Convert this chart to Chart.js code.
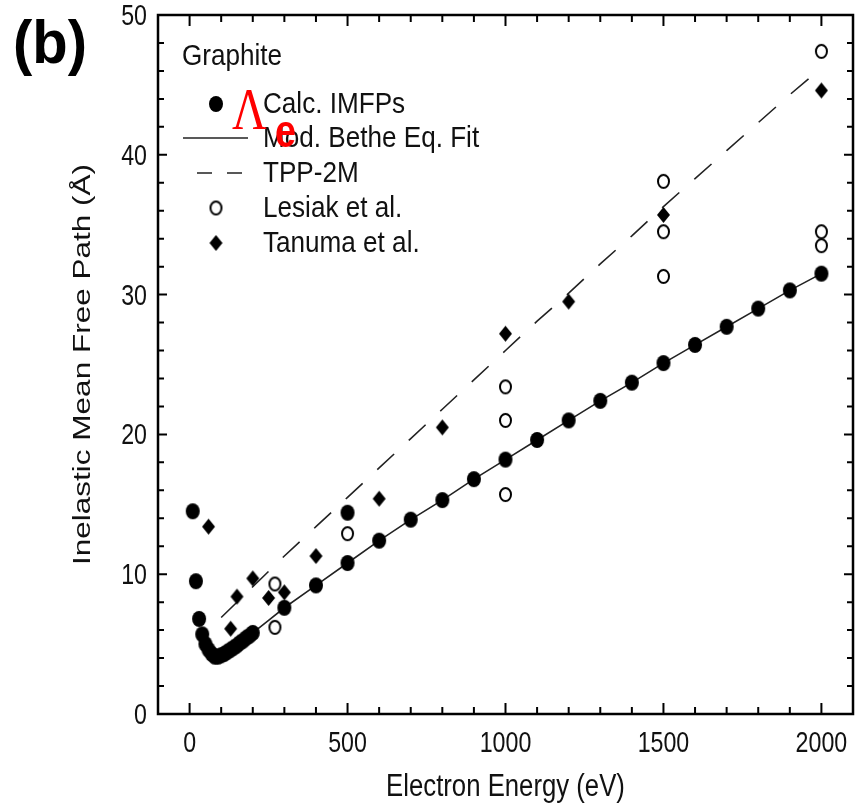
<!DOCTYPE html>
<html>
<head>
<meta charset="utf-8">
<script src="https://cdn.jsdelivr.net/npm/chart.js@4"></script>
<style>
  body { margin: 0; background: #fff; }
  canvas { display: block; }
</style>
</head>
<body>
<canvas id="imfpChart" width="857" height="806"></canvas>
<script>
// Calculated IMFPs (filled circles)
const calcEnergy = [10, 20, 30, 40, 50, 60, 70, 80, 90, 100, 110, 120, 130, 140, 150, 160, 170, 180, 190, 200,
    300, 400, 500, 600, 700, 800, 900, 1000, 1100, 1200, 1300, 1400, 1500, 1600, 1700, 1800, 1900, 2000, 500];
const calcImfp = [14.5, 9.5, 6.8, 5.7, 5.0, 4.6, 4.3, 4.1, 4.1, 4.2, 4.3, 4.45, 4.6, 4.75, 4.9, 5.1, 5.25, 5.45, 5.6, 5.8,
    7.6, 9.2, 10.8, 12.4, 13.9, 15.3, 16.8, 18.2, 19.6, 21.0, 22.4, 23.7, 25.1, 26.4, 27.7, 29.0, 30.3, 31.5, 14.4];

// Modified Bethe equation fit (solid line)
const betheEnergy = [80, 100, 150, 200, 250, 300, 400, 500, 600, 700, 800, 900, 1000, 1100, 1200, 1300, 1400, 1500, 1600, 1700, 1800, 1900, 2000];
const betheImfp = [4.1, 4.2, 4.9, 5.8, 6.7, 7.6, 9.2, 10.8, 12.4, 13.9, 15.3, 16.8, 18.2, 19.6, 21.0, 22.4, 23.7, 25.1, 26.4, 27.7, 29.0, 30.3, 31.5];

// TPP-2M (dashed line)
const tppEnergy = [100, 200, 300, 400, 500, 600, 700, 800, 900, 1000, 1100, 1200, 1300, 1400, 1500, 1600, 1700, 1800, 1900, 2000];
const tppImfp = [6.9, 9.1, 11.3, 13.4, 15.5, 17.6, 19.7, 21.8, 23.9, 26.0, 28.1, 30.1, 32.2, 34.2, 36.3, 38.3, 40.3, 42.3, 44.3, 46.2];

// Lesiak et al. (open circles)
const lesiakEnergy = [270, 270, 500, 1000, 1000, 1000, 1500, 1500, 1500, 2000, 2000, 2000];
const lesiakImfp = [9.3, 6.2, 12.9, 23.4, 21.0, 15.7, 38.1, 34.5, 31.3, 47.4, 34.5, 33.5];

// Tanuma et al. (filled diamonds)
const tanumaEnergy = [60, 130, 150, 200, 250, 300, 400, 600, 800, 1000, 1200, 1500, 2000];
const tanumaImfp = [13.4, 6.1, 8.4, 9.7, 8.3, 8.7, 11.3, 15.4, 20.5, 27.2, 29.5, 35.7, 44.6];

const xTickValues = [0, 500, 1000, 1500, 2000];
const yTickValues = [0, 10, 20, 30, 40, 50];

const SANS = "'Liberation Sans', Arial, Helvetica, sans-serif";
const SERIF = "'Liberation Serif', 'Times New Roman', serif";
const INK = '#111';

function toPoints(xs, ys) {
    return xs.map((x, i) => ({ x: x, y: ys[i] }));
}

// the original figure is stretched vertically, so markers are slightly tall ellipses
function makeMarker(kind, w, h) {
    const c = document.createElement('canvas');
    c.width = w + 4;
    c.height = h + 4;
    const g = c.getContext('2d');
    const cx = c.width / 2, cy = c.height / 2;
    g.fillStyle = '#000';
    g.strokeStyle = '#000';
    g.beginPath();
    if (kind === 'diamond') {
        g.moveTo(cx, cy - h / 2); g.lineTo(cx + w / 2, cy); g.lineTo(cx, cy + h / 2); g.lineTo(cx - w / 2, cy);
        g.closePath();
        g.fill();
    } else if (kind === 'open') {
        g.ellipse(cx, cy, w / 2 - 1, h / 2 - 1, 0, 0, Math.PI * 2);
        g.fillStyle = '#fff';
        g.fill();
        g.lineWidth = 2;
        g.stroke();
    } else {
        g.ellipse(cx, cy, w / 2, h / 2, 0, 0, Math.PI * 2);
        g.fill();
    }
    return c;
}

const dotMarker = makeMarker('dot', 14, 16);
const ringMarker = makeMarker('open', 13, 15);
const diamondMarker = makeMarker('diamond', 13, 16);

// text helper: horizontally squeezed Helvetica-like text
function drawText(ctx, text, x, y, o) {
    ctx.save();
    ctx.translate(x, y);
    if (o.rotate) ctx.rotate(o.rotate);
    ctx.scale(o.sx || 1, o.sy || 1);
    ctx.font = (o.weight ? o.weight + ' ' : '') + o.size + 'px ' + (o.family || SANS);
    ctx.fillStyle = o.color || INK;
    ctx.textAlign = o.align || 'left';
    ctx.textBaseline = 'alphabetic';
    ctx.fillText(text, 0, 0);
    ctx.restore();
}

// inward ticks on all four sides, the frame and the axis labels
const framePlugin = {
    id: 'frame',
    afterDatasetsDraw(chart) {
        const { ctx, chartArea: a, scales: { x, y } } = chart;
        ctx.save();
        ctx.strokeStyle = '#000';
        ctx.lineWidth = 2;
        ctx.beginPath();
        for (let v = 0; v <= 2000; v += 100) {
            const px = x.getPixelForValue(v);
            const len = v % 500 === 0 ? 11 : 7;
            ctx.moveTo(px, a.bottom); ctx.lineTo(px, a.bottom - len);
            ctx.moveTo(px, a.top); ctx.lineTo(px, a.top + len);
        }
        for (let v = 0; v <= 50; v += 2) {
            const py = y.getPixelForValue(v);
            const len = v % 10 === 0 ? 9 : 6;
            ctx.moveTo(a.left, py); ctx.lineTo(a.left + len, py);
            ctx.moveTo(a.right, py); ctx.lineTo(a.right - len, py);
        }
        ctx.stroke();
        ctx.lineWidth = 2.5;
        ctx.strokeRect(a.left, a.top, a.right - a.left, a.bottom - a.top);
        ctx.restore();

        xTickValues.forEach(v => {
            drawText(ctx, String(v), x.getPixelForValue(v), a.bottom + 38, { size: 29, sx: 0.8, align: 'center' });
        });
        yTickValues.forEach(v => {
            drawText(ctx, String(v), a.left - 11, y.getPixelForValue(v) + 10, { size: 29, sx: 0.8, align: 'right' });
        });
        drawText(ctx, 'Electron Energy (eV)', (a.left + a.right) / 2, 796, { size: 31, sx: 0.83, align: 'center' });
        drawText(ctx, 'Inelastic Mean Free Path (\u00C5)', 90, (a.top + a.bottom) / 2,
            { size: 31.5, sy: 0.78, align: 'center', rotate: -Math.PI / 2 });
    }
};

// legend block inside the plot, plus the panel label and the red symbol
const notesPlugin = {
    id: 'notes',
    afterDraw(chart) {
        const ctx = chart.ctx;
        const ds = chart.data.datasets;
        drawText(ctx, 'Graphite', 182, 65, { size: 30, sx: 0.87 });

        const baselines = [113, 147, 182, 217, 252];
        ds.forEach((d, i) => {
            const base = baselines[i];
            const mid = base - 10;
            drawText(ctx, d.label, 263, base, { size: 30, sx: 0.87 });
            ctx.save();
            if (d.legendKind === 'line') {
                ctx.strokeStyle = '#222';
                ctx.lineWidth = 1.5;
                ctx.setLineDash(d.legendDash || []);
                ctx.beginPath();
                ctx.moveTo(d.legendDash ? 197 : 183, mid + 1);
                ctx.lineTo(248, mid + 1);
                ctx.stroke();
            } else {
                const m = d.pointStyle;
                ctx.drawImage(m, 216 - m.width / 2, mid + 1 - m.height / 2);
            }
            ctx.restore();
        });

        drawText(ctx, '(b)', 13, 63, { size: 61, sx: 0.95, weight: 'bold', color: '#000' });
        drawText(ctx, '\u039B', 232, 129, { size: 60, sx: 0.8, family: SERIF, color: '#ff0000' });
        drawText(ctx, 'e', 275, 147, { size: 46, sx: 0.82, weight: 'bold', color: '#ff0000' });
    }
};

const ctx = document.getElementById('imfpChart').getContext('2d');
new Chart(ctx, {
    type: 'scatter',
    data: {
        datasets: [
            {
                label: 'Calc. IMFPs',
                data: toPoints(calcEnergy, calcImfp),
                pointStyle: dotMarker,
                pointRadius: 7,
                order: 1
            },
            {
                label: 'Mod. Bethe Eq. Fit',
                data: toPoints(betheEnergy, betheImfp),
                showLine: true,
                pointRadius: 0,
                borderColor: '#222',
                borderWidth: 1.6,
                legendKind: 'line',
                order: 5
            },
            {
                label: 'TPP-2M',
                data: toPoints(tppEnergy, tppImfp),
                showLine: true,
                pointRadius: 0,
                borderColor: '#222',
                borderWidth: 1.6,
                borderDash: [23, 20],
                legendKind: 'line',
                legendDash: [15, 15],
                order: 4
            },
            {
                label: 'Lesiak et al.',
                data: toPoints(lesiakEnergy, lesiakImfp),
                pointStyle: ringMarker,
                pointRadius: 7,
                order: 2
            },
            {
                label: 'Tanuma et al.',
                data: toPoints(tanumaEnergy, tanumaImfp),
                pointStyle: diamondMarker,
                pointRadius: 7,
                order: 3
            }
        ]
    },
    options: {
        responsive: false,
        animation: false,
        layout: { autoPadding: false, padding: { left: 0, top: 15, right: 4, bottom: 0 } },
        plugins: {
            legend: { display: false },
            tooltip: { enabled: false }
        },
        scales: {
            x: {
                type: 'linear',
                min: -100,
                max: 2100,
                afterFit: s => { s.height = 92; },
                afterBuildTicks: s => { s.ticks = xTickValues.map(v => ({ value: v })); },
                grid: { display: false },
                border: { display: false },
                ticks: { display: false }
            },
            y: {
                type: 'linear',
                min: 0,
                max: 50,
                afterFit: s => { s.width = 158; },
                afterBuildTicks: s => { s.ticks = yTickValues.map(v => ({ value: v })); },
                grid: { display: false },
                border: { display: false },
                ticks: { display: false }
            }
        }
    },
    plugins: [framePlugin, notesPlugin]
});
</script>
</body>
</html>
